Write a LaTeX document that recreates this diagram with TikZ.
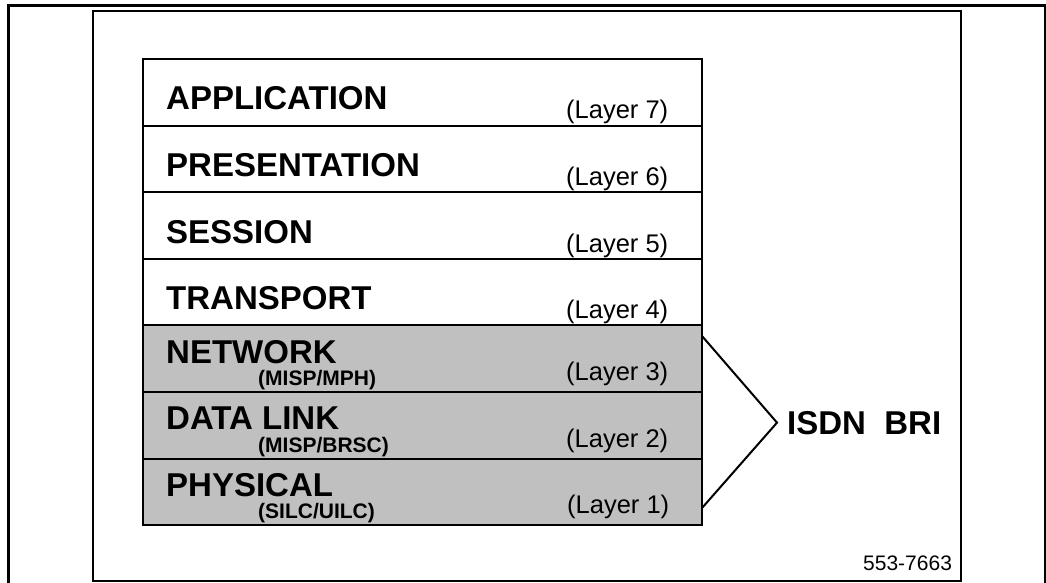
\documentclass[tikz,border=0pt]{standalone}
\usepackage{fontspec}
\setmainfont{Liberation Sans}
\definecolor{layergray}{RGB}{192,192,192}
\begin{document}
\begin{tikzpicture}[x=1pt,y=-1pt,
  layer/.style={draw, line width=2pt, minimum width=559pt, minimum height=66.6pt,
    inner sep=0pt, outer sep=0pt, anchor=north west, fill=white},
  glayer/.style={layer, fill=layergray},
  lname/.style={anchor=base west, inner sep=0pt, font=\fontsize{33}{38}\selectfont\bfseries},
  lsub/.style={anchor=base west, inner sep=0pt, font=\fontsize{21}{25}\selectfont\bfseries},
  lnum/.style={anchor=base west, inner sep=0pt, font=\fontsize{25.5}{30}\selectfont},
  frame/.style={draw, line width=2pt, minimum width=868pt, minimum height=570pt,
    inner sep=0pt, outer sep=0pt, anchor=north west},
  bracket/.style={line width=2pt, line join=miter}]
\useasboundingbox (0,0) rectangle (1046,583);
% outer page border
\draw[line width=3pt] (8,600) -- (8,6) -- (1045,6) -- (1045,600);
% inner frame
\node[frame] (fr) at (93,11) {};
% layer rows
\node[layer]  (app)  at (143,59) {};
\node[layer]  (pres) at (143,125.6) {};
\node[layer]  (sess) at (143,192.2) {};
\node[layer]  (trans) at (143,258.8) {};
\node[glayer] (net)  at (143,325.4) {};
\node[glayer] (dl)   at (143,392) {};
\node[glayer] (phy)  at (143,458.6) {};
% names
\node[lname] (tapp)  at (166,110) {APPLICATION};
\node[lname] (tpres) at (166,176.6) {PRESENTATION};
\node[lname] (tsess) at (166,243.2) {SESSION};
\node[lname] (ttrans) at (166,309.8) {TRANSPORT};
\node[lname] (tnet)  at (166,363) {NETWORK};
\node[lname] (tdl)   at (166,429.6) {DATA LINK};
\node[lname] (tphy)  at (166,496.2) {PHYSICAL};
% sub labels
\node[lsub] (snet) at (258,385.5) {(MISP/MPH)};
\node[lsub] (sdl)  at (258,452.1) {(MISP/BRSC)};
\node[lsub] (sphy) at (258,518.7) {(SILC/UILC)};
% layer numbers
\node[lnum] (n7) at (566,119) {(Layer 7)};
\node[lnum] (n6) at (566,185.6) {(Layer 6)};
\node[lnum] (n5) at (566,252.2) {(Layer 5)};
\node[lnum] (n4) at (566,318.8) {(Layer 4)};
\node[lnum] (n3) at (566,380.5) {(Layer 3)};
\node[lnum] (n2) at (566,447) {(Layer 2)};
\node[lnum] (n1) at (567,513.6) {(Layer 1)};
% ISDN BRI bracket
\node[lname] (isdn) at (787,434) {ISDN\ \ BRI};
\coordinate (btop) at (702,336);
\coordinate (bbot) at (702,508);
\draw[bracket] (btop) -- ([xshift=-10pt]isdn.west) -- (bbot);
% figure number
\node[anchor=base west, inner sep=0pt, font=\fontsize{21}{25}\selectfont] (fig) at (863,570) {553-7663};
\end{tikzpicture}
\end{document}
